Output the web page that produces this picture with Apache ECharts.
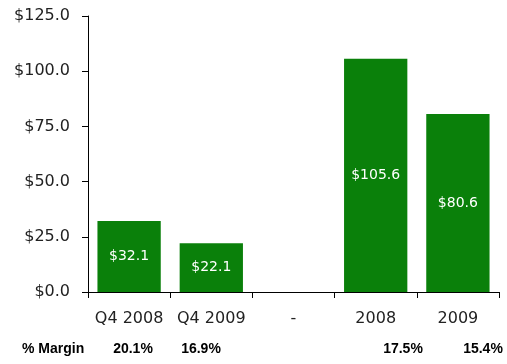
<!DOCTYPE html>
<html><head><meta charset="utf-8">
<script src="https://cdn.jsdelivr.net/npm/echarts@6/dist/echarts.min.js"></script>
<style>html,body{margin:0;padding:0;background:#fff}#c{width:507px;height:364px}</style>
</head><body><div id="c"></div>
<script>
const categories = ["Q4 2008", "Q4 2009", "-", "2008", "2009"];
const values = [32.1, 22.1, null, 105.6, 80.6];
const margins = ["20.1%", "16.9%", null, "17.5%", "15.4%"];
const marginTitle = "% Margin";
const yTicks = [0, 25, 50, 75, 100, 125];

const chart = echarts.init(document.getElementById('c'));
const marginX = [133, 201, null, 403, 483];
const boldFont = 'bold 14px "Liberation Sans", Arial, sans-serif';
const graphics = [{type:'text', x: 22, y: 349, style:{text: marginTitle, font: boldFont, fill:'#000', textVerticalAlign:'middle'}}];
margins.forEach((m,i)=>{ if(m) graphics.push({type:'text', x: marginX[i], y: 349, style:{text:m, font: boldFont, fill:'#000', textAlign:'center', textVerticalAlign:'middle'}}); });
const lblFont = '"DejaVu Sans", Verdana, sans-serif';

chart.setOption({
  animation:false,
  grid:{left:88, top:16, right:8, bottom:72},
  xAxis:{type:'category', data:categories,
    axisLine:{lineStyle:{color:'#000', width:1}},
    axisTick:{show:true, interval:0, length:6, lineStyle:{color:'#000'}},
    axisLabel:{interval:0, hideOverlap:false, color:'#222', fontSize:16, fontFamily:lblFont, margin:19}},
  yAxis:{type:'value', min:yTicks[0], max:yTicks[yTicks.length-1], interval:25,
    axisLine:{show:true, lineStyle:{color:'#000'}},
    axisTick:{show:true, length:6, lineStyle:{color:'#000'}},
    splitLine:{show:false},
    axisLabel:{color:'#222', fontSize:16, fontFamily:lblFont, margin:18,
      formatter:v=>'$'+v.toFixed(1)}},
  series:[{type:'bar', data:values, barCategoryGap:'23%',
    itemStyle:{color:'#0a800a'},
    label:{show:true, position:'inside', color:'#fff', fontSize:14, fontFamily:lblFont,
      formatter:p=>'$'+p.value.toFixed(1)}}],
  graphic:graphics
});
</script></body></html>
